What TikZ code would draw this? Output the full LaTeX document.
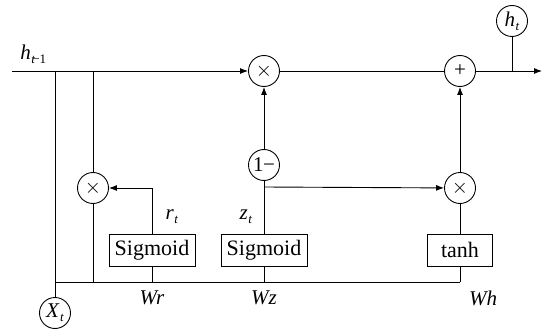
\documentclass[tikz,border=0pt]{standalone}
\usepackage{fontspec}
\setmainfont{Liberation Serif}
\usetikzlibrary{arrows.meta}
% italic symbol with a lowered italic subscript
\newcommand{\vsub}[2]{\textit{#1}\kern0.5pt\raisebox{-0.4ex}{\fontsize{13}{13}\selectfont\textit{#2}}}
\begin{document}
\begin{tikzpicture}[x=1pt,y=-1pt,
  line width=0.9pt,
  op/.style={circle,draw,minimum size=31pt,inner sep=0pt,font=\fontsize{21}{21}\selectfont},
  gate/.style={rectangle,draw,minimum height=32pt,inner sep=0pt,font=\fontsize{22}{22}\selectfont},
  lbl/.style={inner sep=0pt,font=\fontsize{21}{21}\selectfont},
  arr/.style={-{Latex[length=8pt,width=6pt]}}]
\useasboundingbox (0,0) rectangle (544,329);

% operation circles
\node[op] (mtop) at (264,71) {$\times$};
\node[op] (plus) at (460,71) {+};
\node[op] (mr)   at (93,188) {$\times$};
\node[op] (mh)   at (460,188) {$\times$};
\node[op] (oneminus) at (264,165) {1\kern-0.5pt−};
\node[op] (ht)   at (512,21) {\vsub{h}{t}};
\node[op] (xt)   at (55,313) {\vsub{X}{t}};

% activation boxes
\node[gate,minimum width=86pt] (sr) at (152,250) {Sigmoid};
\node[gate,minimum width=86pt] (sz) at (264,250) {Sigmoid};
\node[gate,minimum width=65pt] (th) at (460,250) {tanh};

% labels
\node[lbl,anchor=base west] (hprev) at (20,60) {\vsub{h}{t}\kern-3pt\raisebox{-0.4ex}{\fontsize{13}{13}\selectfont−1}};
\node[lbl] (rt) at (172,217) {\vsub{r}{t}};
\node[lbl] (zt) at (246,217) {\vsub{z}{t}};
\node[lbl] (wr) at (152,298) {\textit{Wr}};
\node[lbl] (wz) at (264,298) {\textit{Wz}};
\node[lbl] (wh) at (483,298) {\textit{Wh}};

% junction points
\coordinate (in)  at (12,71);
\coordinate (out) at (542,71);
\coordinate (j1)  at (55,71);
\coordinate (j2)  at (93,71);
\coordinate (b1)  at (55,282);
\coordinate (b2)  at (93,282);
\coordinate (bs)  at (152,282);
\coordinate (bz)  at (264,282);
\coordinate (bh)  at (460,282);
\coordinate (jz)  at (264,187);
\coordinate (jo)  at (512,71);

% hidden state path
\draw[arr] (in) -- (mtop);
\draw (mtop) -- (plus);
\draw[arr] (plus) -- (out);
\draw (ht) -- (jo);

% branches of h_{t-1}
\draw (j1) -- (xt);
\draw (j2) -- (mr);
\draw (mr) -- (b2);

% input bus
\draw (b1) -- (bh);
\draw (sr) -- (bs);
\draw (sz) -- (bz);
\draw (th) -- (bh);

% reset gate
\draw[arr] (sr.north) |- (mr);

% update gate
\draw (sz) -- (oneminus);
\draw[arr] (oneminus) -- (mtop);
\draw[arr] (jz) -- (mh);

% candidate state
\draw (th) -- (mh);
\draw[arr] (mh) -- (plus);
\end{tikzpicture}
\end{document}
